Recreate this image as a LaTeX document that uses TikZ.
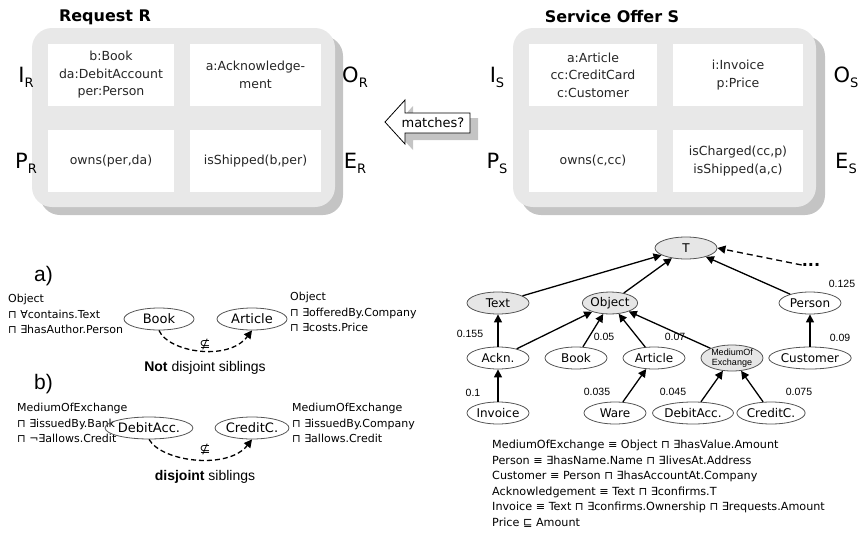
\documentclass[tikz,border=0pt]{standalone}
\usepackage{fontspec}
\setmainfont{DejaVu Sans}
\newfontfamily\arialf{Liberation Sans}
\usetikzlibrary{arrows.meta,shapes.geometric,shapes.arrows}
\definecolor{boxgray}{HTML}{E8E8E8}
\definecolor{shadowgray}{HTML}{C4C4C4}
\definecolor{nodegray}{HTML}{E6E6E6}
\definecolor{edgegray}{HTML}{555555}
\tikzset{
  boxbg/.style={fill=boxgray, draw=none, rounded corners=20pt},
  boxshadow/.style={fill=shadowgray, draw=none, rounded corners=20pt},
  cell/.style={fill=white, draw=none, inner sep=0pt, align=center,
    font=\fontsize{12.5}{17.5}\selectfont, text=black!85},
  biglabel/.style={font=\fontsize{21}{24}\selectfont, inner sep=0pt},
  title/.style={font=\bfseries\fontsize{16}{19}\selectfont, inner sep=0pt},
  concept/.style={ellipse, draw=edgegray, line width=0.8pt, minimum width=62pt,
    minimum height=22pt, inner sep=0pt, font=\fontsize{12}{14}\selectfont},
  gconcept/.style={concept, fill=nodegray},
  isa/.style={-{Triangle[length=8pt,width=8pt]}, line width=1.3pt},
  num/.style={font=\arialf\fontsize{10.5}{12}\selectfont, inner sep=0pt},
  defs/.style={font=\fontsize{11}{15.5}\selectfont, align=left, inner sep=0pt, anchor=north west},
  sibl/.style={dashed, line width=1.3pt, dash pattern=on 5pt off 3pt, -{Triangle[length=8pt,width=8pt]}},
  caption/.style={font=\arialf\fontsize{14}{16}\selectfont, inner sep=0pt},
  part/.style={font=\arialf\fontsize{21}{24}\selectfont, inner sep=0pt, anchor=west}
}
\newcommand{\lbl}[2]{#1\raisebox{-5pt}{\fontsize{13}{14}\selectfont #2}}
\begin{document}
\begin{tikzpicture}[x=1pt,y=-1pt]
\useasboundingbox (0,0) rectangle (860,533);
% ---------------- Request R ----------------
\node[title] (rtitle) at (105,17) {Request R};
\fill[boxshadow] (40,36) rectangle (343,215);
\fill[boxbg] (32,28) rectangle (335,207);
\node[cell, minimum width=126pt, minimum height=62pt] (rI) at (111,75) {b:Book\\da:DebitAccount\\per:Person};
\node[cell, minimum width=131pt, minimum height=62pt] (rO) at (255.5,75) {a:Acknowledge-\\ment};
\node[cell, minimum width=126pt, minimum height=62pt] (rP) at (111,161) {owns(per,da)};
\node[cell, minimum width=131pt, minimum height=62pt] (rE) at (255.5,161) {isShipped(b,per)};
\node[biglabel] (lIR) at (26,77) {\lbl{I}{R}};
\node[biglabel] (lOR) at (355,77) {\lbl{O}{R}};
\node[biglabel] (lPR) at (26,163) {\lbl{P}{R}};
\node[biglabel] (lER) at (355,163) {\lbl{E}{R}};
% ---------------- Service Offer S ----------------
\node[title] (stitle) at (612,17) {Service Offer S};
\fill[boxshadow] (521,36) rectangle (825,215);
\fill[boxbg] (513,28) rectangle (816,207);
\node[cell, minimum width=128pt, minimum height=62pt] (sI) at (593,75) {a:Article\\cc:CreditCard\\c:Customer};
\node[cell, minimum width=130pt, minimum height=62pt] (sO) at (738,75) {i:Invoice\\p:Price};
\node[cell, minimum width=128pt, minimum height=62pt] (sP) at (593,161) {owns(c,cc)};
\node[cell, minimum width=130pt, minimum height=62pt] (sE) at (738,161) {isCharged(cc,p)\\isShipped(a,c)};
\node[biglabel] (lIS) at (497,77) {\lbl{I}{S}};
\node[biglabel] (lOS) at (846,77) {\lbl{O}{S}};
\node[biglabel] (lPS) at (497,163) {\lbl{P}{S}};
\node[biglabel] (lES) at (846,163) {\lbl{E}{S}};
% ---------------- matches arrow ----------------
\fill[shadowgray] (393,128) -- (413,106) -- (413,118) -- (478,118) -- (478,140) -- (413,140) -- (413,150) -- cycle;
\draw[fill=white, line width=0.8pt] (385,122) -- (405,100) -- (405,113) -- (470,113) -- (470,133) -- (405,133) -- (405,144) -- cycle;
\node[font=\fontsize{13}{15}\selectfont, inner sep=0pt] (match) at (433,123) {matches?};
% ---------------- part a ----------------
\node[part] (pa) at (34,276) {a)};
\node[defs] (adefl) at (8,294) {Object\\⊓ ∀contains.Text\\⊓ ∃hasAuthor.Person};
\node[defs] (adefr) at (290,292) {Object\\⊓ ∃offeredBy.Company\\⊓ ∃costs.Price};
\node[concept, minimum width=70pt, font=\fontsize{13}{15}\selectfont] (abook) at (159,319) {Book};
\node[concept, minimum width=70pt, font=\fontsize{13}{15}\selectfont] (aart) at (252,319) {Article};
\draw[sibl] (abook.south) .. controls (168,352) and (228,362) .. (aart.south);
\node[font=\fontsize{13}{14}\selectfont, inner sep=0pt] (ansub) at (205,345) {⊈};
\node[caption] (acap) at (205,368) {\textbf{Not} disjoint siblings};
% ---------------- part b ----------------
\node[part] (pb) at (34,384) {b)};
\node[defs] (bdefl) at (17,403) {MediumOfExchange\\⊓ ∃issuedBy.Bank\\⊓ ¬∃allows.Credit};
\node[defs] (bdefr) at (292,403) {MediumOfExchange\\⊓ ∃issuedBy.Company\\⊓ ∃allows.Credit};
\node[concept, minimum width=72pt, font=\fontsize{13}{15}\selectfont] (bdeb) at (149,428) {DebitAcc.};
\node[concept, minimum width=70pt, font=\fontsize{13}{15}\selectfont] (bcre) at (252,428) {CreditC.};
\draw[sibl] (bdeb.south) .. controls (162,462) and (228,470) .. (bcre.south);
\node[font=\fontsize{13}{14}\selectfont, inner sep=0pt] (bnsub) at (205,450) {⊈};
\node[caption] (bcap) at (205,477) {\textbf{disjoint} siblings};
% ---------------- taxonomy ----------------
\node[gconcept] (top) at (686,248) {T};
\node[gconcept] (text) at (498,303) {Text};
\node[gconcept, minimum width=54pt] (object) at (610,303) {Object};
\node[concept] (person) at (810,303) {Person};
\node[concept] (ackn) at (498,358) {Ackn.};
\node[concept] (book) at (576,358) {Book};
\node[concept] (article) at (654,358) {Article};
\node[gconcept, align=center, font=\arialf\fontsize{9}{10}\selectfont] (moe) at (732,358) {MediumOf\\Exchange};
\node[concept] (customer) at (810,358) {Customer};
\node[concept] (invoice) at (498,413) {Invoice};
\node[concept] (ware) at (615,413) {Ware};
\node[concept] (debit) at (693,413) {DebitAcc.};
\node[concept] (credit) at (771,413) {CreditC.};
\node[font=\bfseries\fontsize{16}{16}\selectfont, inner sep=0pt] (dots) at (811,265) {...};
\draw[isa] (text) -- (top);
\draw[isa] (object) -- (top);
\draw[isa] (person) -- (top);
\draw[isa, dashed, dash pattern=on 6pt off 4pt] (dots.west) -- (top.east);
\draw[isa] (ackn) -- (text);
\draw[isa] (ackn) -- (object);
\draw[isa] (book) -- (object);
\draw[isa] (article) -- (object);
\draw[isa] (moe) -- (object);
\draw[isa] (customer) -- (person);
\draw[isa] (invoice) -- (ackn);
\draw[isa] (ware) -- (article);
\draw[isa] (debit) -- (moe);
\draw[isa] (credit) -- (moe);
\node[num] (n1) at (842,284) {0.125};
\node[num] (n2) at (470,334) {0.155};
\node[num] (n3) at (604,337) {0.05};
\node[num] (n4) at (675,337) {0.07};
\node[num] (n5) at (840,338) {0.09};
\node[num] (n6) at (473,393) {0.1};
\node[num] (n7) at (597,392) {0.035};
\node[num] (n8) at (673,392) {0.045};
\node[num] (n9) at (799,392) {0.075};
\node[defs, font=\fontsize{11.2}{15.5}\selectfont] (tdefs) at (492,440) {MediumOfExchange ≡ Object ⊓ ∃hasValue.Amount\\Person ≡ ∃hasName.Name ⊓ ∃livesAt.Address\\Customer ≡ Person ⊓ ∃hasAccountAt.Company\\Acknowledgement ≡ Text ⊓ ∃confirms.T\\Invoice ≡ Text ⊓ ∃confirms.Ownership ⊓ ∃requests.Amount\\Price ⊑ Amount};
\end{tikzpicture}
\end{document}
